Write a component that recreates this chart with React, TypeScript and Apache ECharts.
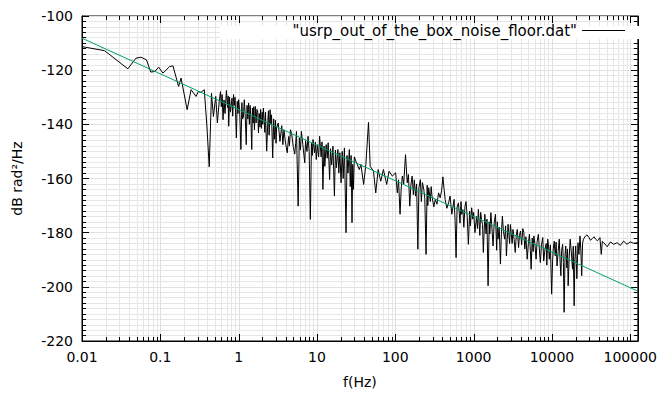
import { useEffect, useRef } from 'react';
import * as echarts from 'echarts';

const noiseFreqHz = [
  0.01, 0.0194, 0.0385, 0.0487, 0.0564, 0.0666, 0.0754, 0.0847, 0.0953, 0.108,
  0.131, 0.145, 0.171, 0.184, 0.22, 0.247, 0.286, 0.305, 0.33, 0.364,
  0.394, 0.421, 0.45, 0.476, 0.51, 0.535, 0.565, 0.586, 0.6, 0.615,
  0.632, 0.65, 0.67, 0.698, 0.72, 0.735, 0.747, 0.765, 0.785, 0.823,
  0.84, 0.86, 0.88, 0.9, 0.935, 0.96, 0.98, 1.0, 1.03, 1.069,
  1.1, 1.12, 1.15, 1.18, 1.21, 1.25, 1.28, 1.31, 1.34, 1.37,
  1.4, 1.43, 1.47, 1.5, 1.53, 1.56, 1.59, 1.63, 1.67, 1.71,
  1.75, 1.79, 1.83, 1.87, 1.91, 1.95, 2.0, 2.03, 2.07, 2.12,
  2.16, 2.2, 2.28, 2.36, 2.4, 2.45, 2.52, 2.58, 2.63, 2.72,
  2.8, 2.86, 2.95, 3.0, 3.05, 3.2, 3.37, 3.55, 3.67, 3.79,
  3.95, 4.17, 4.35, 4.45, 4.59, 4.75, 4.97, 5.2, 5.35, 5.47,
  5.75, 5.95, 6.15, 6.33, 6.6, 6.98, 7.15, 7.45, 7.69, 7.95,
  8.23, 8.5, 8.7, 8.9, 9.3, 9.55, 9.8, 10.1, 10.5, 10.8,
  11.3, 11.6, 11.9, 12.3, 12.6, 13.1, 13.5, 13.9, 14.5, 14.9,
  15.4, 16.0, 16.7, 17.2, 17.7, 18.5, 19.0, 19.6, 20.3, 21.0,
  21.6, 22.4, 23.5, 24.2, 24.9, 25.9, 26.6, 27.3, 28.0, 28.6,
  29.2, 30.0, 31.4, 34.7, 36.4, 39.4, 42.1, 45.5, 47.8, 52.7,
  56.3, 60.4, 65.2, 70.5, 77.6, 83.2, 91.6, 101, 106, 110,
  115, 119, 123, 128, 135, 142, 147, 153, 158, 164,
  170, 175, 181, 187, 194, 200, 209, 215, 222, 231,
  238, 247, 255, 260, 267, 280, 287, 294, 310, 324,
  340, 357, 374, 390, 405, 420, 433, 455, 479, 500,
  527, 545, 563, 580, 597, 615, 640, 670, 690, 705,
  730, 750, 776, 800, 830, 857, 890, 910, 944, 975,
  1000, 1040, 1090, 1120, 1150, 1200, 1230, 1260, 1300, 1330,
  1390, 1440, 1480, 1530, 1580, 1610, 1660, 1710, 1770, 1830,
  1900, 1970, 2010, 2050, 2120, 2200, 2260, 2330, 2400, 2490,
  2560, 2620, 2690, 2750, 2880, 2950, 3030, 3100, 3180, 3290,
  3400, 3500, 3610, 3750, 3850, 3970, 4100, 4250, 4380, 4500,
  4650, 4830, 5000, 5160, 5300, 5420, 5600, 5750, 5870, 6050,
  6270, 6450, 6710, 6900, 7110, 7350, 7630, 7850, 8150, 8450,
  8600, 8830, 9050, 9250, 9550, 9910, 10200, 10400, 10700, 11000,
  11300, 11600, 12000, 12400, 12700, 13000, 13300, 13700, 14000, 14300,
  14700, 15000, 15500, 15800, 16100, 16600, 17100, 17700, 18300, 18700,
  19200, 19600, 20100, 20800, 21500, 22100, 22800, 23400, 24000, 24600,
  25200, 26900, 28000, 29700, 31000, 32700, 34500, 36100, 38000, 39700,
  41000, 42600, 44000, 45900, 50700, 55800, 61500, 67900, 74700, 82300,
  90800, 100000, 110000, 125000,
];
const noiseDb = [
  -111.3, -112.8, -119.5, -115.6, -115.2, -116.2, -120.7, -120.5, -118.9, -121.1,
  -118.7, -118.4, -126.0, -122.9, -134.6, -127.2, -129.7, -127.9, -128.2, -127.2,
  -141.0, -155.7, -128.5, -137.1, -129.7, -139.5, -131.5, -127.9, -133.5, -129.0,
  -138.3, -131.0, -136.0, -127.5, -133.8, -129.5, -140.7, -130.0, -135.5, -130.3,
  -137.0, -129.0, -133.0, -130.0, -145.0, -131.5, -136.0, -130.9, -135.0, -149.3,
  -132.0, -138.0, -137.5, -130.9, -136.0, -147.5, -133.0, -138.0, -132.1, -140.0,
  -133.0, -137.0, -149.3, -134.0, -139.5, -133.5, -142.0, -133.4, -139.5, -134.5,
  -135.0, -143.2, -136.0, -141.0, -134.5, -141.5, -135.5, -140.0, -134.0, -139.0,
  -143.0, -135.5, -149.9, -138.5, -135.0, -144.0, -134.6, -140.0, -136.5, -152.4,
  -138.0, -145.5, -138.5, -147.0, -141.3, -139.5, -146.3, -140.5, -147.5, -142.0,
  -146.5, -150.5, -144.5, -148.0, -142.0, -143.5, -148.1, -151.0, -147.0, -142.6,
  -170.2, -145.0, -149.5, -142.6, -147.5, -154.2, -146.0, -150.0, -144.4, -150.0,
  -175.1, -147.0, -151.5, -145.6, -150.5, -146.5, -153.0, -147.5, -152.0, -144.4,
  -152.0, -146.5, -164.0, -148.0, -155.5, -147.5, -152.5, -146.8, -160.4, -149.0,
  -155.0, -148.1, -166.5, -149.5, -156.0, -149.3, -158.0, -150.5, -161.6, -150.0,
  -160.0, -148.7, -180.0, -151.5, -158.0, -149.3, -163.0, -151.5, -176.3, -154.8,
  -164.0, -152.0, -153.6, -156.7, -154.8, -162.2, -154.8, -139.3, -155.5, -157.3,
  -165.3, -156.7, -161.0, -156.7, -162.2, -157.3, -159.1, -157.9, -165.3, -160.5,
  -173.2, -163.5, -159.1, -162.0, -151.2, -161.6, -158.5, -170.2, -162.5, -159.1,
  -166.0, -160.5, -166.5, -162.0, -186.1, -163.5, -160.4, -168.5, -161.5, -164.0,
  -167.5, -188.0, -162.5, -170.0, -163.4, -168.5, -163.0, -166.5, -170.5, -167.7,
  -169.5, -165.3, -167.1, -164.5, -159.4, -164.0, -167.7, -171.0, -169.0, -166.5,
  -173.2, -170.5, -167.7, -175.5, -189.2, -170.5, -169.0, -176.5, -168.5, -173.2,
  -171.5, -178.0, -170.2, -168.5, -174.5, -184.3, -172.0, -177.5, -170.8, -175.0,
  -172.5, -180.0, -174.0, -178.5, -171.4, -181.0, -172.5, -175.1, -177.0, -187.3,
  -173.2, -180.5, -175.0, -199.6, -176.0, -180.5, -172.6, -178.0, -184.9, -176.5,
  -173.2, -186.5, -176.0, -182.4, -178.0, -191.6, -180.5, -173.9, -179.5, -182.4,
  -177.5, -188.6, -182.5, -176.9, -184.0, -177.0, -180.6, -184.0, -178.8, -182.5,
  -187.3, -181.0, -178.8, -185.5, -181.0, -179.4, -184.5, -178.5, -180.0, -186.0,
  -181.5, -189.8, -184.0, -180.6, -186.5, -193.5, -182.0, -187.0, -181.2, -184.0,
  -189.8, -183.5, -180.6, -186.0, -191.0, -184.5, -181.8, -190.5, -186.1, -184.0,
  -192.0, -182.4, -185.0, -189.8, -184.5, -202.7, -190.0, -186.0, -183.1, -188.5,
  -183.5, -192.3, -187.0, -182.4, -190.5, -195.9, -186.5, -184.3, -191.0, -209.4,
  -188.0, -184.9, -193.0, -186.0, -199.6, -189.0, -182.4, -187.5, -193.5, -185.0,
  -207.0, -190.0, -184.9, -197.0, -183.7, -188.0, -181.2, -186.5, -195.9, -184.0,
  -182.4, -181.2, -180.8, -181.8, -182.8, -182.2, -181.5, -182.4, -183.0, -182.4,
  -181.8, -188.0, -183.2, -183.7, -185.2, -183.4, -184.3, -183.7, -184.7, -183.1,
  -184.3, -183.4, -183.9, -183.7,
];

// Fitted straight line (end points)
const fitFreqHz = [0.01, 125000];
const fitDb = [-108.2, -201.6];

// Axis ticks
const xDecades = [0.01, 0.1, 1, 10, 100, 1000, 10000, 100000];
const xMin = 0.01;
const xMax = 125000;
const yMin = -220;
const yMax = -100;
const yStep = 20;

const seriesName = '"usrp_out_of_the_box_noise_floor.dat"';
const FONT = 'DejaVu Sans';

export default function App() {
  const ref = useRef<HTMLDivElement>(null);

  useEffect(() => {
    if (!ref.current) return;
    const chart = echarts.init(ref.current, undefined, { renderer: 'svg' });

    const noiseData = noiseFreqHz.map((f, i) => [f, noiseDb[i]]);
    const fitData = fitFreqHz.map((f, i) => [f, fitDb[i]]);

    const tickData: number[][] = [];
    xDecades.forEach((d) => {
      for (let m = 1; m <= 9; m++) {
        const v = d * m;
        if (v <= xMax * 1.0001) tickData.push([v, yMin, m === 1 ? 1 : 0]);
      }
    });

    const fmtX = (v: number) => {
      const lg = Math.log10(v);
      if (Math.abs(lg - Math.round(lg)) > 1e-6) return '';
      const r = Math.round(lg);
      return r < 0 ? Math.pow(10, r).toFixed(-r) : String(Math.pow(10, r));
    };

    chart.setOption({
      animation: false,
      backgroundColor: '#fff',
      textStyle: { fontFamily: FONT },
      grid: {
        left: 82,
        right: 17,
        top: 16,
        bottom: 52,
        show: true,
        borderColor: '#000',
        borderWidth: 1,
        backgroundColor: 'transparent',
      },
      legend: {
        show: true,
        data: [seriesName],
        right: 35,
        top: 23,
        align: 'right',
        icon: 'rect',
        itemWidth: 43,
        itemHeight: 1,
        itemGap: 0,
        padding: 0,
        z: 6,
        selectedMode: false,
        itemStyle: { color: '#000' },
        textStyle: { fontFamily: FONT, fontSize: 15, color: '#000' },
      },
      graphic: [
        {
          type: 'rect',
          z: 2,
          shape: { x: 220, y: 26, width: 419, height: 13 },
          style: { fill: '#fff' },
          silent: true,
        },
      ],
      xAxis: [
        {
          type: 'log',
          logBase: 10,
          min: xMin,
          max: xMax,
          position: 'bottom',
          name: 'f(Hz)',
          nameLocation: 'middle',
          nameGap: 34,
          nameTextStyle: { fontFamily: FONT, fontSize: 14, color: '#000' },
          axisLine: { show: true, lineStyle: { color: '#000', width: 1 } },
          axisTick: { show: false },
          splitLine: { show: false },
          axisLabel: {
            fontFamily: FONT,
            fontSize: 14,
            color: '#000',
            margin: 9,
            formatter: fmtX,
            hideOverlap: false,
          },
        },
      ],
      yAxis: [
        {
          type: 'value',
          min: yMin,
          max: yMax,
          interval: yStep,
          position: 'left',
          name: 'dB rad²/Hz',
          nameLocation: 'middle',
          nameGap: 58,
          nameTextStyle: { fontFamily: FONT, fontSize: 14, color: '#000' },
          axisLine: { show: true, lineStyle: { color: '#000', width: 1 } },
          axisTick: { show: true, inside: true, length: 7, lineStyle: { color: '#000' } },
          minorTick: { show: true, splitNumber: 10, length: 4, lineStyle: { color: '#000' } },
          splitLine: { show: true, lineStyle: { color: '#e0e0e0', width: 1 } },
          minorSplitLine: { show: true, lineStyle: { color: '#e6e6e6', width: 1 } },
          axisLabel: { fontFamily: FONT, fontSize: 14, color: '#000', margin: 9 },
        },
        {
          type: 'value',
          min: yMin,
          max: yMax,
          interval: yStep,
          position: 'right',
          axisLine: { show: true, lineStyle: { color: '#000', width: 1 } },
          axisTick: { show: true, inside: true, length: 7, lineStyle: { color: '#000' } },
          minorTick: { show: true, splitNumber: 10, length: 4, lineStyle: { color: '#000' } },
          splitLine: { show: false },
          axisLabel: { show: false },
        },
      ],
      series: [
        {
          type: 'custom',
          name: 'xgrid',
          coordinateSystem: 'cartesian2d',
          xAxisIndex: 0,
          yAxisIndex: 0,
          silent: true,
          z: 1,
          clip: false,
          encode: { x: 0, y: 1 },
          data: tickData,
          renderItem: (params: any, api: any) => {
            const f = api.value(0);
            const major = api.value(2) === 1;
            const p = api.coord([f, yMin]);
            const cs = params.coordSys;
            const x = Math.round(p[0]) + 0.5;
            const top = cs.y;
            const bottom = cs.y + cs.height;
            const len = major ? 7 : 4;
            const children: any[] = [];
            if (Math.abs(p[0] - cs.x) > 1 && Math.abs(p[0] - (cs.x + cs.width)) > 1) {
              children.push({
                type: 'line',
                shape: { x1: x, y1: top, x2: x, y2: bottom },
                style: { stroke: major ? '#e0e0e0' : '#e6e6e6', lineWidth: 1 },
              });
            }
            children.push({
              type: 'line',
              z2: 10,
              shape: { x1: x, y1: bottom, x2: x, y2: bottom - len },
              style: { stroke: '#000', lineWidth: 1 },
            });
            children.push({
              type: 'line',
              z2: 10,
              shape: { x1: x, y1: top, x2: x, y2: top + len },
              style: { stroke: '#000', lineWidth: 1 },
            });
            return { type: 'group', children };
          },
        },
        {
          type: 'line',
          name: seriesName,
          data: noiseData,
          showSymbol: false,
          symbol: 'none',
          z: 3,
          lineStyle: { color: '#000', width: 1 },
          itemStyle: { color: '#000' },
        },
        {
          type: 'line',
          name: 'fit',
          data: fitData,
          showSymbol: false,
          symbol: 'none',
          z: 4,
          lineStyle: { color: '#009e73', width: 1 },
          itemStyle: { color: '#009e73' },
        },
      ],
    });

    return () => chart.dispose();
  }, []);

  return <div ref={ref} style={{ width: 660, height: 394, position: 'absolute', left: 0, top: 0 }} />;
}
